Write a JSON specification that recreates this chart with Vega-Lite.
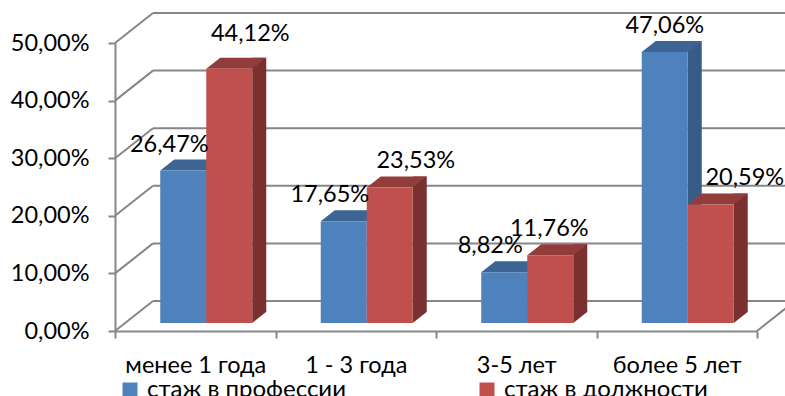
{
  "$schema": "https://vega.github.io/schema/vega-lite/v6.json",
  "width": 642,
  "height": 288,
  "autosize": {"type": "none"},
  "padding": {"left": 115, "top": 43, "right": 28, "bottom": 65},
  "config": {
    "view": {"stroke": null},
    "font": "Lato",
    "locale": {
      "number": {"decimal": ",", "thousands": " ", "grouping": [3], "currency": ["", " ₽"]}
    },
    "axisY": {
      "title": null, "grid": false, "format": ".2%",
      "domainColor": "#878787", "domainWidth": 2, "tickColor": "#878787", "tickWidth": 2, "tickSize": 7,
      "labelFontSize": 23.5, "labelColor": "#000000", "labelPadding": 19
    },
    "axisX": {
      "title": null, "tickBand": "extent", "labelAngle": 0, "labelBaseline": "middle",
      "domainColor": "#878787", "domainWidth": 2, "tickColor": "#878787", "tickWidth": 2, "tickSize": 7,
      "labelFontSize": 23.5, "labelColor": "#000000", "labelPadding": 27, "labelLimit": 0
    }
  },
  "datasets": {
    "shares": [
      {"group": "менее 1 года", "series": "стаж в профессии", "share": 0.2647},
      {"group": "менее 1 года", "series": "стаж в должности", "share": 0.4412},
      {"group": "1 - 3 года", "series": "стаж в профессии", "share": 0.1765},
      {"group": "1 - 3 года", "series": "стаж в должности", "share": 0.2353},
      {"group": "3-5 лет", "series": "стаж в профессии", "share": 0.0882},
      {"group": "3-5 лет", "series": "стаж в должности", "share": 0.1176},
      {"group": "более 5 лет", "series": "стаж в профессии", "share": 0.4706},
      {"group": "более 5 лет", "series": "стаж в должности", "share": 0.2059}
    ],
    "levels": [
      {"level": 0}, {"level": 0.1}, {"level": 0.2}, {"level": 0.3}, {"level": 0.4}, {"level": 0.5}
    ]
  },
  "layer": [
    {
      "data": {"name": "levels"},
      "mark": {"type": "rule", "color": "#878787", "strokeWidth": 2, "yOffset": -30},
      "encoding": {
        "x": {"value": 38},
        "x2": {"value": 680},
        "y": {
          "field": "level", "type": "quantitative",
          "scale": {"domain": [0, 0.5], "nice": false},
          "axis": {"title": null, "values": [0, 0.1, 0.2, 0.3, 0.4, 0.5]}
        }
      }
    },
    {
      "data": {"name": "levels"},
      "mark": {"type": "rule", "color": "#878787", "strokeWidth": 2, "y2Offset": -30},
      "encoding": {
        "x": {"value": 0},
        "x2": {"value": 38},
        "y": {"field": "level", "type": "quantitative", "axis": {"title": null, "values": [0, 0.1, 0.2, 0.3, 0.4, 0.5]}},
        "y2": {"field": "level"}
      }
    },
    {
      "data": {"name": "levels"},
      "transform": [{"filter": "datum.level === 0"}],
      "mark": {"type": "rule", "color": "#878787", "strokeWidth": 2, "y2Offset": -30},
      "encoding": {
        "x": {"value": 642},
        "x2": {"value": 680},
        "y": {"field": "level", "type": "quantitative", "axis": {"title": null, "values": [0, 0.1, 0.2, 0.3, 0.4, 0.5]}},
        "y2": {"field": "level"}
      }
    },
    {
      "data": {"name": "shares"},
      "resolve": {"scale": {"xOffset": "independent"}},
      "encoding": {
        "x": {
          "field": "group", "type": "nominal",
          "sort": ["менее 1 года", "1 - 3 года", "3-5 лет", "более 5 лет"],
          "scale": {"paddingInner": 0, "paddingOuter": 0},
          "axis": {"title": null}
        },
        "xOffset": {
          "field": "series", "type": "nominal",
          "scale": {
            "type": "band", "domain": ["стаж в профессии", "стаж в должности"],
            "range": [45.25, 137.25], "paddingInner": 0, "paddingOuter": 0
          }
        },
        "y": {"field": "share", "type": "quantitative", "axis": {"title": null, "values": [0, 0.1, 0.2, 0.3, 0.4, 0.5]}}
      },
      "layer": [
        {
          "mark": {"type": "bar", "width": 14, "yOffset": -19, "y2Offset": -19},
          "encoding": {
            "xOffset": {
              "field": "series", "type": "nominal",
              "scale": {
                "type": "band", "domain": ["стаж в профессии", "стаж в должности"],
                "range": [75.25, 167.25], "paddingInner": 0, "paddingOuter": 0
              }
            },
            "color": {
              "condition": {"test": "datum.series === 'стаж в профессии'", "value": "#385B88"},
              "value": "#7A302E"
            }
          }
        },
        {
          "mark": {
            "type": "point", "shape": "M-23,0L23,0L37,-11L-9,-11Z", "size": 4,
            "filled": true, "opacity": 1, "strokeWidth": 0, "yOffset": -8
          },
          "encoding": {
            "color": {
              "condition": {"test": "datum.series === 'стаж в профессии'", "value": "#3D6594"},
              "value": "#923D3B"
            }
          }
        },
        {
          "mark": {
            "type": "point", "shape": "M23,-11.5L37.5,-11.5L23,0Z", "size": 4,
            "filled": true, "opacity": 1, "strokeWidth": 0, "yOffset": -8
          },
          "encoding": {
            "y": {"datum": 0, "type": "quantitative", "axis": {"title": null, "values": [0, 0.1, 0.2, 0.3, 0.4, 0.5]}},
            "color": {
              "condition": {"test": "datum.series === 'стаж в профессии'", "value": "#385B88"},
              "value": "#7A302E"
            }
          }
        },
        {
          "mark": {"type": "bar", "yOffset": -8, "y2Offset": -8},
          "encoding": {
            "color": {
              "field": "series", "type": "nominal",
              "scale": {"domain": ["стаж в профессии", "стаж в должности"], "range": ["#4F81BD", "#C0504D"]},
              "legend": {
                "title": null, "orient": "none", "legendX": 3, "legendY": 335, "direction": "horizontal",
                "columns": 2, "columnPadding": 129, "padding": 0, "labelLimit": 400,
                "symbolType": "square", "symbolSize": 225, "symbolStrokeWidth": 0,
                "labelFontSize": 24, "labelColor": "#000000", "labelOffset": 5
              }
            }
          }
        },
        {
          "transform": [{"filter": "datum.series === 'стаж в профессии' && datum.group !== 'более 5 лет'"}],
          "mark": {"type": "text", "fontSize": 23.5, "color": "#000000", "baseline": "middle", "dx": -14, "yOffset": -34},
          "encoding": {"text": {"field": "share", "type": "quantitative", "format": ".2%"}}
        },
        {
          "transform": [{"filter": "datum.series === 'стаж в профессии' && datum.group === 'более 5 лет'"}],
          "mark": {"type": "text", "fontSize": 23.5, "color": "#000000", "baseline": "middle", "dx": 0, "yOffset": -34},
          "encoding": {"text": {"field": "share", "type": "quantitative", "format": ".2%"}}
        },
        {
          "transform": [{"filter": "datum.series === 'стаж в должности' && datum.group === 'менее 1 года'"}],
          "mark": {"type": "text", "fontSize": 23.5, "color": "#000000", "baseline": "middle", "dx": 21, "yOffset": -43},
          "encoding": {"text": {"field": "share", "type": "quantitative", "format": ".2%"}}
        },
        {
          "transform": [{"filter": "datum.series === 'стаж в должности' && datum.group === '1 - 3 года'"}],
          "mark": {"type": "text", "fontSize": 23.5, "color": "#000000", "baseline": "middle", "dx": 26, "yOffset": -34},
          "encoding": {"text": {"field": "share", "type": "quantitative", "format": ".2%"}}
        },
        {
          "transform": [{"filter": "datum.series === 'стаж в должности' && datum.group === '3-5 лет'"}],
          "mark": {"type": "text", "fontSize": 23.5, "color": "#000000", "baseline": "middle", "dx": -1, "yOffset": -34},
          "encoding": {"text": {"field": "share", "type": "quantitative", "format": ".2%"}}
        },
        {
          "transform": [{"filter": "datum.series === 'стаж в должности' && datum.group === 'более 5 лет'"}],
          "mark": {"type": "text", "fontSize": 23.5, "color": "#000000", "baseline": "middle", "dx": 34, "yOffset": -34},
          "encoding": {"text": {"field": "share", "type": "quantitative", "format": ".2%"}}
        }
      ]
    }
  ]
}
